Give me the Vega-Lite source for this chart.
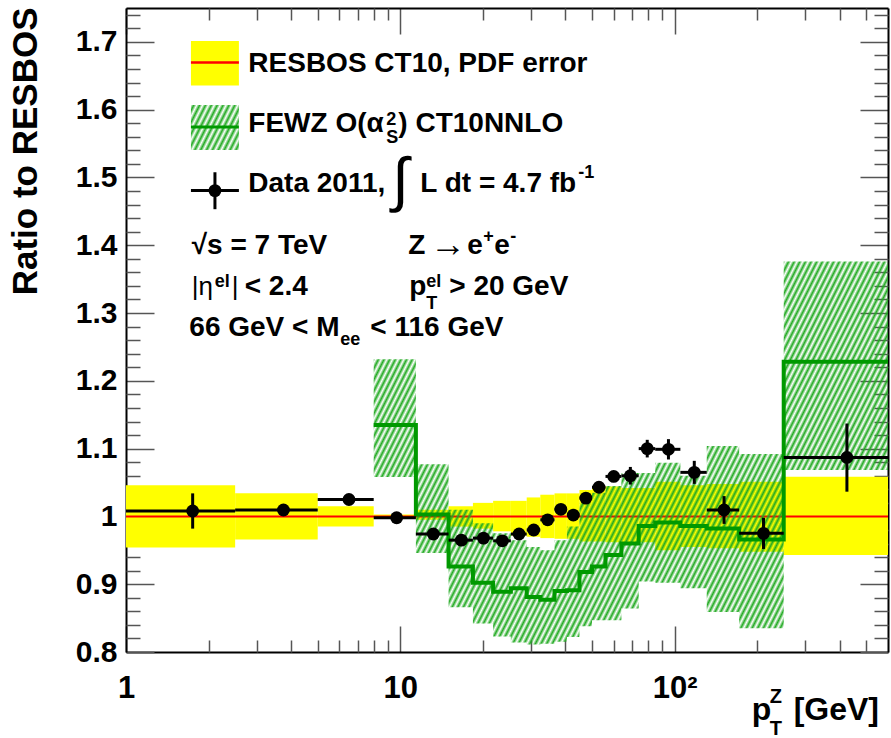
{
"$schema":"https://vega.github.io/schema/vega-lite/v6.json",
"width":762,"height":644,
"autosize":{"type":"none"},
"padding":{"left":126,"top":8,"right":3,"bottom":86},
"background":"white",
"config":{"view":{"stroke":null},"font":"Liberation Sans",
"axis":{"labelFont":"Liberation Sans","labelFontWeight":"bold","labelColor":"black","tickColor":"#555","tickWidth":1.5,"domainColor":"black","domainWidth":2,"grid":false,"zindex":1,"labelFlush":false,"labelOverlap":false,"titleFont":"Liberation Sans"}},
"resolve":{"axis":{"x":"independent","y":"independent"}},
"datasets":{
"resbos":[
{"lo":1,"hi":2.5,"dn":0.954,"up":1.046},
{"lo":2.5,"hi":5,"dn":0.966,"up":1.034},
{"lo":5,"hi":8,"dn":0.985,"up":1.015},
{"lo":8,"hi":11.4,"dn":0.997,"up":1.003},
{"lo":11.4,"hi":15,"dn":0.995,"up":1.01},
{"lo":15,"hi":18.4,"dn":0.985,"up":1.015},
{"lo":18.4,"hi":21.8,"dn":0.982,"up":1.02},
{"lo":21.8,"hi":25.3,"dn":0.978,"up":1.023},
{"lo":25.3,"hi":28.9,"dn":0.972,"up":1.023},
{"lo":28.9,"hi":32.4,"dn":0.97,"up":1.028},
{"lo":32.4,"hi":36.5,"dn":0.968,"up":1.032},
{"lo":36.5,"hi":40.5,"dn":0.967,"up":1.034},
{"lo":40.5,"hi":45,"dn":0.967,"up":1.034},
{"lo":45,"hi":50,"dn":0.963,"up":1.039},
{"lo":50,"hi":56,"dn":0.963,"up":1.042},
{"lo":56,"hi":64,"dn":0.962,"up":1.044},
{"lo":64,"hi":74,"dn":0.962,"up":1.042},
{"lo":74,"hi":85,"dn":0.962,"up":1.042},
{"lo":85,"hi":105,"dn":0.95,"up":1.051},
{"lo":105,"hi":131,"dn":0.955,"up":1.046},
{"lo":131,"hi":172,"dn":0.953,"up":1.048},
{"lo":172,"hi":250,"dn":0.948,"up":1.051},
{"lo":250,"hi":600,"dn":0.943,"up":1.0587}],
"fewz":[
{"lo":8,"c":1.135,"dn":1.058,"up":1.232},
{"lo":11.4,"c":1.003,"dn":0.946,"up":1.077},
{"lo":15,"c":0.926,"dn":0.866,"up":1.01},
{"lo":18.4,"c":0.902,"dn":0.842,"up":0.99},
{"lo":21.8,"c":0.889,"dn":0.823,"up":0.975},
{"lo":25.3,"c":0.894,"dn":0.814,"up":0.965},
{"lo":28.9,"c":0.881,"dn":0.811,"up":0.955},
{"lo":32.4,"c":0.877,"dn":0.812,"up":0.95},
{"lo":36.5,"c":0.89,"dn":0.815,"up":0.965},
{"lo":40.5,"c":0.891,"dn":0.822,"up":0.985},
{"lo":45,"c":0.918,"dn":0.838,"up":1.02},
{"lo":50,"c":0.926,"dn":0.847,"up":1.035},
{"lo":56,"c":0.943,"dn":0.847,"up":1.045},
{"lo":64,"c":0.96,"dn":0.864,"up":1.064},
{"lo":74,"c":0.986,"dn":0.904,"up":1.064},
{"lo":85,"c":0.991,"dn":0.902,"up":1.079},
{"lo":105,"c":0.986,"dn":0.894,"up":1.06},
{"lo":131,"c":0.982,"dn":0.859,"up":1.104},
{"lo":172,"c":0.966,"dn":0.835,"up":1.092},
{"lo":250,"c":1.228,"dn":1.0685,"up":1.376},
{"lo":600,"c":1.228,"dn":1.0685,"up":1.376}],
"meas":[
{"lo":1,"hi":2.5,"x":1.75,"y":1.008,"ymin":0.982,"ymax":1.034},
{"lo":2.5,"hi":5,"x":3.75,"y":1.0095,"ymin":1.005,"ymax":1.014},
{"lo":5,"hi":8,"x":6.5,"y":1.025,"ymin":1.021,"ymax":1.029},
{"lo":8,"hi":11.4,"x":9.7,"y":0.998,"ymin":0.995,"ymax":1.001},
{"lo":11.4,"hi":15,"x":13.2,"y":0.974,"ymin":0.97,"ymax":0.978},
{"lo":15,"hi":18.4,"x":16.7,"y":0.965,"ymin":0.961,"ymax":0.969},
{"lo":18.4,"hi":21.8,"x":20.1,"y":0.968,"ymin":0.964,"ymax":0.972},
{"lo":21.8,"hi":25.3,"x":23.55,"y":0.964,"ymin":0.96,"ymax":0.968},
{"lo":25.3,"hi":28.9,"x":27.1,"y":0.974,"ymin":0.97,"ymax":0.978},
{"lo":28.9,"hi":32.4,"x":30.65,"y":0.98,"ymin":0.976,"ymax":0.984},
{"lo":32.4,"hi":36.5,"x":34.45,"y":0.995,"ymin":0.991,"ymax":0.999},
{"lo":36.5,"hi":40.5,"x":38.5,"y":1.0105,"ymin":1.006,"ymax":1.015},
{"lo":40.5,"hi":45,"x":42.75,"y":1.002,"ymin":0.997,"ymax":1.007},
{"lo":45,"hi":50,"x":47.5,"y":1.027,"ymin":1.022,"ymax":1.032},
{"lo":50,"hi":56,"x":53,"y":1.043,"ymin":1.038,"ymax":1.048},
{"lo":56,"hi":64,"x":60,"y":1.059,"ymin":1.052,"ymax":1.066},
{"lo":64,"hi":74,"x":69,"y":1.06,"ymin":1.047,"ymax":1.073},
{"lo":74,"hi":85,"x":79.5,"y":1.1,"ymin":1.087,"ymax":1.113},
{"lo":85,"hi":105,"x":95,"y":1.099,"ymin":1.084,"ymax":1.114},
{"lo":105,"hi":131,"x":118,"y":1.065,"ymin":1.048,"ymax":1.082},
{"lo":131,"hi":172,"x":151.5,"y":1.0095,"ymin":0.989,"ymax":1.03},
{"lo":172,"hi":250,"x":211,"y":0.975,"ymin":0.952,"ymax":0.998},
{"lo":250,"hi":600,"x":425,"y":1.087,"ymin":1.0365,"ymax":1.137}]
},
"layer":[
{"data":{"name":"resbos"},"mark":{"type":"rect","fill":"#ffff00"},
"encoding":{
"x":{"field":"lo","type":"quantitative","scale":{"type":"log","domain":[1,600],"nice":false},"axis":{"orient":"bottom","values":[1,10,100],"labelExpr":"datum.value==1?'1':datum.value==10?'10':'10²'","tickSize":-26,"labelPadding":47,"labelFontSize":31,"title":null}},
"x2":{"field":"hi"},
"y":{"field":"dn","type":"quantitative","scale":{"domain":[0.8,1.75],"nice":false,"zero":false},"axis":{"orient":"left","values":[0.8,0.9,1,1.1,1.2,1.3,1.4,1.5,1.6,1.7],"format":"~g","tickSize":-28,"labelPadding":37,"labelFontSize":30,"title":"Ratio to RESBOS","titleFontSize":35,"titleFontWeight":"bold","titleColor":"black","titleAngle":270,"titleAlign":"right","titleBaseline":"alphabetic","titleX":-90,"titleY":-1}},
"y2":{"field":"up"}}},
{"data":{"values":[{}]},"mark":{"type":"rule","stroke":"#ff0000","strokeWidth":2},
"encoding":{"y":{"datum":1,"type":"quantitative","scale":{"domain":[0.8,1.75],"nice":false,"zero":false},"axis":null}}},
{"data":{"name":"fewz"},"mark":{"type":"area","interpolate":"step-after","fill":{"gradient":"linear","x1":0,"y1":0,"x2":1.205,"y2":0.4487,"stops":[
{"offset":0,"color":"#2a20"},{"offset":0.004,"color":"#2a2"},{"offset":0.008,"color":"#2a20"},{"offset":0.012,"color":"#2a2"},{"offset":0.016,"color":"#2a20"},{"offset":0.02,"color":"#2a2"},{"offset":0.024,"color":"#2a20"},{"offset":0.028,"color":"#2a2"},{"offset":0.032,"color":"#2a20"},{"offset":0.036,"color":"#2a2"},
{"offset":0.04,"color":"#2a20"},{"offset":0.044,"color":"#2a2"},{"offset":0.048,"color":"#2a20"},{"offset":0.052,"color":"#2a2"},{"offset":0.056,"color":"#2a20"},{"offset":0.06,"color":"#2a2"},{"offset":0.064,"color":"#2a20"},{"offset":0.068,"color":"#2a2"},{"offset":0.072,"color":"#2a20"},{"offset":0.076,"color":"#2a2"},
{"offset":0.08,"color":"#2a20"},{"offset":0.084,"color":"#2a2"},{"offset":0.088,"color":"#2a20"},{"offset":0.092,"color":"#2a2"},{"offset":0.096,"color":"#2a20"},{"offset":0.1,"color":"#2a2"},{"offset":0.104,"color":"#2a20"},{"offset":0.108,"color":"#2a2"},{"offset":0.112,"color":"#2a20"},{"offset":0.116,"color":"#2a2"},
{"offset":0.12,"color":"#2a20"},{"offset":0.124,"color":"#2a2"},{"offset":0.128,"color":"#2a20"},{"offset":0.132,"color":"#2a2"},{"offset":0.136,"color":"#2a20"},{"offset":0.14,"color":"#2a2"},{"offset":0.144,"color":"#2a20"},{"offset":0.148,"color":"#2a2"},{"offset":0.152,"color":"#2a20"},{"offset":0.156,"color":"#2a2"},
{"offset":0.16,"color":"#2a20"},{"offset":0.164,"color":"#2a2"},{"offset":0.168,"color":"#2a20"},{"offset":0.172,"color":"#2a2"},{"offset":0.176,"color":"#2a20"},{"offset":0.18,"color":"#2a2"},{"offset":0.184,"color":"#2a20"},{"offset":0.188,"color":"#2a2"},{"offset":0.192,"color":"#2a20"},{"offset":0.196,"color":"#2a2"},
{"offset":0.2,"color":"#2a20"},{"offset":0.204,"color":"#2a2"},{"offset":0.208,"color":"#2a20"},{"offset":0.212,"color":"#2a2"},{"offset":0.216,"color":"#2a20"},{"offset":0.22,"color":"#2a2"},{"offset":0.224,"color":"#2a20"},{"offset":0.228,"color":"#2a2"},{"offset":0.232,"color":"#2a20"},{"offset":0.236,"color":"#2a2"},
{"offset":0.24,"color":"#2a20"},{"offset":0.244,"color":"#2a2"},{"offset":0.248,"color":"#2a20"},{"offset":0.252,"color":"#2a2"},{"offset":0.256,"color":"#2a20"},{"offset":0.26,"color":"#2a2"},{"offset":0.264,"color":"#2a20"},{"offset":0.268,"color":"#2a2"},{"offset":0.272,"color":"#2a20"},{"offset":0.276,"color":"#2a2"},
{"offset":0.28,"color":"#2a20"},{"offset":0.284,"color":"#2a2"},{"offset":0.288,"color":"#2a20"},{"offset":0.292,"color":"#2a2"},{"offset":0.296,"color":"#2a20"},{"offset":0.3,"color":"#2a2"},{"offset":0.304,"color":"#2a20"},{"offset":0.308,"color":"#2a2"},{"offset":0.312,"color":"#2a20"},{"offset":0.316,"color":"#2a2"},
{"offset":0.32,"color":"#2a20"},{"offset":0.324,"color":"#2a2"},{"offset":0.328,"color":"#2a20"},{"offset":0.332,"color":"#2a2"},{"offset":0.336,"color":"#2a20"},{"offset":0.34,"color":"#2a2"},{"offset":0.344,"color":"#2a20"},{"offset":0.348,"color":"#2a2"},{"offset":0.352,"color":"#2a20"},{"offset":0.356,"color":"#2a2"},
{"offset":0.36,"color":"#2a20"},{"offset":0.364,"color":"#2a2"},{"offset":0.368,"color":"#2a20"},{"offset":0.372,"color":"#2a2"},{"offset":0.376,"color":"#2a20"},{"offset":0.38,"color":"#2a2"},{"offset":0.384,"color":"#2a20"},{"offset":0.388,"color":"#2a2"},{"offset":0.392,"color":"#2a20"},{"offset":0.396,"color":"#2a2"},
{"offset":0.4,"color":"#2a20"},{"offset":0.404,"color":"#2a2"},{"offset":0.408,"color":"#2a20"},{"offset":0.412,"color":"#2a2"},{"offset":0.416,"color":"#2a20"},{"offset":0.42,"color":"#2a2"},{"offset":0.424,"color":"#2a20"},{"offset":0.428,"color":"#2a2"},{"offset":0.432,"color":"#2a20"},{"offset":0.436,"color":"#2a2"},
{"offset":0.44,"color":"#2a20"},{"offset":0.444,"color":"#2a2"},{"offset":0.448,"color":"#2a20"},{"offset":0.452,"color":"#2a2"},{"offset":0.456,"color":"#2a20"},{"offset":0.46,"color":"#2a2"},{"offset":0.464,"color":"#2a20"},{"offset":0.468,"color":"#2a2"},{"offset":0.472,"color":"#2a20"},{"offset":0.476,"color":"#2a2"},
{"offset":0.48,"color":"#2a20"},{"offset":0.484,"color":"#2a2"},{"offset":0.488,"color":"#2a20"},{"offset":0.492,"color":"#2a2"},{"offset":0.496,"color":"#2a20"},{"offset":0.5,"color":"#2a2"},{"offset":0.504,"color":"#2a20"},{"offset":0.508,"color":"#2a2"},{"offset":0.512,"color":"#2a20"},{"offset":0.516,"color":"#2a2"},
{"offset":0.52,"color":"#2a20"},{"offset":0.524,"color":"#2a2"},{"offset":0.528,"color":"#2a20"},{"offset":0.532,"color":"#2a2"},{"offset":0.536,"color":"#2a20"},{"offset":0.54,"color":"#2a2"},{"offset":0.544,"color":"#2a20"},{"offset":0.548,"color":"#2a2"},{"offset":0.552,"color":"#2a20"},{"offset":0.556,"color":"#2a2"},
{"offset":0.56,"color":"#2a20"},{"offset":0.564,"color":"#2a2"},{"offset":0.568,"color":"#2a20"},{"offset":0.572,"color":"#2a2"},{"offset":0.576,"color":"#2a20"},{"offset":0.58,"color":"#2a2"},{"offset":0.584,"color":"#2a20"},{"offset":0.588,"color":"#2a2"},{"offset":0.592,"color":"#2a20"},{"offset":0.596,"color":"#2a2"},
{"offset":0.6,"color":"#2a20"},{"offset":0.604,"color":"#2a2"},{"offset":0.608,"color":"#2a20"},{"offset":0.612,"color":"#2a2"},{"offset":0.616,"color":"#2a20"},{"offset":0.62,"color":"#2a2"},{"offset":0.624,"color":"#2a20"},{"offset":0.628,"color":"#2a2"},{"offset":0.632,"color":"#2a20"},{"offset":0.636,"color":"#2a2"},
{"offset":0.64,"color":"#2a20"},{"offset":0.644,"color":"#2a2"},{"offset":0.648,"color":"#2a20"},{"offset":0.652,"color":"#2a2"},{"offset":0.656,"color":"#2a20"},{"offset":0.66,"color":"#2a2"},{"offset":0.664,"color":"#2a20"},{"offset":0.668,"color":"#2a2"},{"offset":0.672,"color":"#2a20"},{"offset":0.676,"color":"#2a2"},
{"offset":0.68,"color":"#2a20"},{"offset":0.684,"color":"#2a2"},{"offset":0.688,"color":"#2a20"},{"offset":0.692,"color":"#2a2"},{"offset":0.696,"color":"#2a20"},{"offset":0.7,"color":"#2a2"},{"offset":0.704,"color":"#2a20"},{"offset":0.708,"color":"#2a2"},{"offset":0.712,"color":"#2a20"},{"offset":0.716,"color":"#2a2"},
{"offset":0.72,"color":"#2a20"},{"offset":0.724,"color":"#2a2"},{"offset":0.728,"color":"#2a20"},{"offset":0.732,"color":"#2a2"},{"offset":0.736,"color":"#2a20"},{"offset":0.74,"color":"#2a2"},{"offset":0.744,"color":"#2a20"},{"offset":0.748,"color":"#2a2"},{"offset":0.752,"color":"#2a20"},{"offset":0.756,"color":"#2a2"},
{"offset":0.76,"color":"#2a20"},{"offset":0.764,"color":"#2a2"},{"offset":0.768,"color":"#2a20"},{"offset":0.772,"color":"#2a2"},{"offset":0.776,"color":"#2a20"},{"offset":0.78,"color":"#2a2"},{"offset":0.784,"color":"#2a20"},{"offset":0.788,"color":"#2a2"},{"offset":0.792,"color":"#2a20"},{"offset":0.796,"color":"#2a2"},
{"offset":0.8,"color":"#2a20"},{"offset":0.804,"color":"#2a2"},{"offset":0.808,"color":"#2a20"},{"offset":0.812,"color":"#2a2"},{"offset":0.816,"color":"#2a20"},{"offset":0.82,"color":"#2a2"},{"offset":0.824,"color":"#2a20"},{"offset":0.828,"color":"#2a2"},{"offset":0.832,"color":"#2a20"},{"offset":0.836,"color":"#2a2"},
{"offset":0.84,"color":"#2a20"},{"offset":0.844,"color":"#2a2"},{"offset":0.848,"color":"#2a20"},{"offset":0.852,"color":"#2a2"},{"offset":0.856,"color":"#2a20"},{"offset":0.86,"color":"#2a2"},{"offset":0.864,"color":"#2a20"},{"offset":0.868,"color":"#2a2"},{"offset":0.872,"color":"#2a20"},{"offset":0.876,"color":"#2a2"},
{"offset":0.88,"color":"#2a20"},{"offset":0.884,"color":"#2a2"},{"offset":0.888,"color":"#2a20"},{"offset":0.892,"color":"#2a2"},{"offset":0.896,"color":"#2a20"},{"offset":0.9,"color":"#2a2"},{"offset":0.904,"color":"#2a20"},{"offset":0.908,"color":"#2a2"},{"offset":0.912,"color":"#2a20"},{"offset":0.916,"color":"#2a2"},
{"offset":0.92,"color":"#2a20"},{"offset":0.924,"color":"#2a2"},{"offset":0.928,"color":"#2a20"},{"offset":0.932,"color":"#2a2"},{"offset":0.936,"color":"#2a20"},{"offset":0.94,"color":"#2a2"},{"offset":0.944,"color":"#2a20"},{"offset":0.948,"color":"#2a2"},{"offset":0.952,"color":"#2a20"},{"offset":0.956,"color":"#2a2"},
{"offset":0.96,"color":"#2a20"},{"offset":0.964,"color":"#2a2"},{"offset":0.968,"color":"#2a20"},{"offset":0.972,"color":"#2a2"},{"offset":0.976,"color":"#2a20"},{"offset":0.98,"color":"#2a2"},{"offset":0.984,"color":"#2a20"},{"offset":0.988,"color":"#2a2"},{"offset":0.992,"color":"#2a20"},{"offset":0.996,"color":"#2a2"},
{"offset":1,"color":"#2a20"}]}},
"encoding":{
"x":{"field":"lo","type":"quantitative","scale":{"type":"log","domain":[1,600],"nice":false},"axis":{"orient":"bottom","values":[2,3,4,5,6,7,8,9,20,30,40,50,60,70,80,90,200,300,400,500],"tickSize":-12,"labels":false,"domain":false,"title":null}},
"y":{"field":"dn","type":"quantitative","scale":{"domain":[0.8,1.75],"nice":false,"zero":false},"axis":{"orient":"left","values":[0.82,0.84,0.86,0.88,0.92,0.94,0.96,0.98,1.02,1.04,1.06,1.08,1.12,1.14,1.16,1.18,1.22,1.24,1.26,1.28,1.32,1.34,1.36,1.38,1.42,1.44,1.46,1.48,1.52,1.54,1.56,1.58,1.62,1.64,1.66,1.68,1.72,1.74],"tickSize":-14,"labels":false,"domain":false,"title":null}},
"y2":{"field":"up"}}},
{"data":{"name":"fewz"},"mark":{"type":"line","interpolate":"step-after","stroke":"#009900","strokeWidth":4},
"encoding":{
"x":{"field":"lo","type":"quantitative","scale":{"type":"log","domain":[1,600],"nice":false},"axis":{"orient":"top","values":[1,10,100],"tickSize":-26,"labels":false,"title":null}},
"y":{"field":"c","type":"quantitative","scale":{"domain":[0.8,1.75],"nice":false,"zero":false},"axis":{"orient":"right","values":[0.8,0.9,1,1.1,1.2,1.3,1.4,1.5,1.6,1.7],"tickSize":-28,"labels":false,"title":null}}}},
{"data":{"name":"meas"},"mark":{"type":"rule","stroke":"black","strokeWidth":3},
"encoding":{"x":{"field":"lo","type":"quantitative","scale":{"type":"log","domain":[1,600],"nice":false},"axis":null},"x2":{"field":"hi"},
"y":{"field":"y","type":"quantitative","scale":{"domain":[0.8,1.75],"nice":false,"zero":false},"axis":null}}},
{"data":{"name":"meas"},"mark":{"type":"rule","stroke":"black","strokeWidth":3},
"encoding":{"x":{"field":"x","type":"quantitative","scale":{"type":"log","domain":[1,600],"nice":false},"axis":null},
"y":{"field":"ymin","type":"quantitative","scale":{"domain":[0.8,1.75],"nice":false,"zero":false},"axis":null},"y2":{"field":"ymax"}}},
{"data":{"name":"meas"},"mark":{"type":"circle","color":"black","opacity":1,"size":165},
"encoding":{
"x":{"field":"x","type":"quantitative","scale":{"type":"log","domain":[1,600],"nice":false},"axis":{"orient":"top","values":[2,3,4,5,6,7,8,9,20,30,40,50,60,70,80,90,200,300,400,500],"tickSize":-12,"labels":false,"domain":false,"title":null}},
"y":{"field":"y","type":"quantitative","scale":{"domain":[0.8,1.75],"nice":false,"zero":false},"axis":{"orient":"right","values":[0.82,0.84,0.86,0.88,0.92,0.94,0.96,0.98,1.02,1.04,1.06,1.08,1.12,1.14,1.16,1.18,1.22,1.24,1.26,1.28,1.32,1.34,1.36,1.38,1.42,1.44,1.46,1.48,1.52,1.54,1.56,1.58,1.62,1.64,1.66,1.68,1.72,1.74],"tickSize":-14,"labels":false,"domain":false,"title":null}}}},
{"data":{"values":[{}]},"mark":{"type":"rect","fill":"#ffff00"},
"encoding":{"x":{"datum":1.725,"type":"quantitative","scale":{"type":"log","domain":[1,600],"nice":false},"axis":null},"x2":{"datum":2.58},
"y":{"datum":1.6355,"type":"quantitative","scale":{"domain":[0.8,1.75],"nice":false,"zero":false},"axis":null},"y2":{"datum":1.7014}}},
{"data":{"values":[{}]},"mark":{"type":"rule","stroke":"#ff0000","strokeWidth":2.5},
"encoding":{"x":{"datum":1.725,"type":"quantitative","scale":{"type":"log","domain":[1,600],"nice":false},"axis":null},"x2":{"datum":2.58},
"y":{"datum":1.6695,"type":"quantitative","scale":{"domain":[0.8,1.75],"nice":false,"zero":false},"axis":null}}},
{"data":{"values":[{}]},"mark":{"type":"rect","fill":{"gradient":"linear","x1":0,"y1":0,"x2":1.204,"y2":0.5645,"stops":[
{"offset":0,"color":"#2a20"},{"offset":0.0417,"color":"#2a2"},{"offset":0.0833,"color":"#2a20"},{"offset":0.125,"color":"#2a2"},{"offset":0.1667,"color":"#2a20"},{"offset":0.2083,"color":"#2a2"},{"offset":0.25,"color":"#2a20"},{"offset":0.2917,"color":"#2a2"},{"offset":0.3333,"color":"#2a20"},{"offset":0.375,"color":"#2a2"},{"offset":0.4167,"color":"#2a20"},{"offset":0.4583,"color":"#2a2"},{"offset":0.5,"color":"#2a20"},{"offset":0.5417,"color":"#2a2"},{"offset":0.5833,"color":"#2a20"},{"offset":0.625,"color":"#2a2"},{"offset":0.6667,"color":"#2a20"},{"offset":0.7083,"color":"#2a2"},{"offset":0.75,"color":"#2a20"},{"offset":0.7917,"color":"#2a2"},{"offset":0.8333,"color":"#2a20"},{"offset":0.875,"color":"#2a2"},{"offset":0.9167,"color":"#2a20"},{"offset":0.9583,"color":"#2a2"},{"offset":1,"color":"#2a20"}]}},
"encoding":{"x":{"datum":1.725,"type":"quantitative","scale":{"type":"log","domain":[1,600],"nice":false},"axis":null},"x2":{"datum":2.58},
"y":{"datum":1.5406,"type":"quantitative","scale":{"domain":[0.8,1.75],"nice":false,"zero":false},"axis":null},"y2":{"datum":1.607}}},
{"data":{"values":[{}]},"mark":{"type":"rule","stroke":"#009900","strokeWidth":3},
"encoding":{"x":{"datum":1.725,"type":"quantitative","scale":{"type":"log","domain":[1,600],"nice":false},"axis":null},"x2":{"datum":2.58},
"y":{"datum":1.5746,"type":"quantitative","scale":{"domain":[0.8,1.75],"nice":false,"zero":false},"axis":null}}},
{"data":{"values":[{}]},"mark":{"type":"rule","stroke":"black","strokeWidth":3},
"encoding":{"x":{"datum":1.725,"type":"quantitative","scale":{"type":"log","domain":[1,600],"nice":false},"axis":null},"x2":{"datum":2.58},
"y":{"datum":1.4806,"type":"quantitative","scale":{"domain":[0.8,1.75],"nice":false,"zero":false},"axis":null}}},
{"data":{"values":[{}]},"mark":{"type":"rule","stroke":"black","strokeWidth":3},
"encoding":{"x":{"datum":2.11,"type":"quantitative","scale":{"type":"log","domain":[1,600],"nice":false},"axis":null},
"y":{"datum":1.4532,"type":"quantitative","scale":{"domain":[0.8,1.75],"nice":false,"zero":false},"axis":null},"y2":{"datum":1.5077}}},
{"data":{"values":[{}]},"mark":{"type":"circle","color":"black","opacity":1,"size":165},
"encoding":{"x":{"datum":2.11,"type":"quantitative","scale":{"type":"log","domain":[1,600],"nice":false},"axis":null},
"y":{"datum":1.4806,"type":"quantitative","scale":{"domain":[0.8,1.75],"nice":false,"zero":false},"axis":null}}},
{"data":{"values":[{}]},"mark":{"type":"text","text":"RESBOS CT10, PDF error","align":"left","baseline":"alphabetic","fontSize":28,"fontWeight":"bold","color":"black"},
"encoding":{"x":{"datum":2.7923,"type":"quantitative","scale":{"type":"log","domain":[1,600],"nice":false},"axis":null},"y":{"datum":1.656,"type":"quantitative","scale":{"domain":[0.8,1.75],"nice":false,"zero":false},"axis":null}}},
{"data":{"values":[{}]},"mark":{"type":"text","text":"FEWZ O(α","align":"left","baseline":"alphabetic","fontSize":28,"fontWeight":"bold","color":"black"},
"encoding":{"x":{"datum":2.7923,"type":"quantitative","scale":{"type":"log","domain":[1,600],"nice":false},"axis":null},"y":{"datum":1.5675,"type":"quantitative","scale":{"domain":[0.8,1.75],"nice":false,"zero":false},"axis":null}}},
{"data":{"values":[{}]},"mark":{"type":"text","text":"2","align":"left","baseline":"alphabetic","fontSize":18,"fontWeight":"bold","color":"black","dx":138,"dy":-7},
"encoding":{"x":{"datum":2.7923,"type":"quantitative","scale":{"type":"log","domain":[1,600],"nice":false},"axis":null},"y":{"datum":1.5675,"type":"quantitative","scale":{"domain":[0.8,1.75],"nice":false,"zero":false},"axis":null}}},
{"data":{"values":[{}]},"mark":{"type":"text","text":"S","align":"left","baseline":"alphabetic","fontSize":18,"fontWeight":"bold","color":"black","dx":138,"dy":11},
"encoding":{"x":{"datum":2.7923,"type":"quantitative","scale":{"type":"log","domain":[1,600],"nice":false},"axis":null},"y":{"datum":1.5675,"type":"quantitative","scale":{"domain":[0.8,1.75],"nice":false,"zero":false},"axis":null}}},
{"data":{"values":[{}]},"mark":{"type":"text","text":") CT10NNLO","align":"left","baseline":"alphabetic","fontSize":28,"fontWeight":"bold","color":"black","dx":150},
"encoding":{"x":{"datum":2.7923,"type":"quantitative","scale":{"type":"log","domain":[1,600],"nice":false},"axis":null},"y":{"datum":1.5675,"type":"quantitative","scale":{"domain":[0.8,1.75],"nice":false,"zero":false},"axis":null}}},
{"data":{"values":[{}]},"mark":{"type":"text","text":"Data 2011,","align":"left","baseline":"alphabetic","fontSize":28,"fontWeight":"bold","color":"black"},
"encoding":{"x":{"datum":2.7923,"type":"quantitative","scale":{"type":"log","domain":[1,600],"nice":false},"axis":null},"y":{"datum":1.4781,"type":"quantitative","scale":{"domain":[0.8,1.75],"nice":false,"zero":false},"axis":null}}},
{"data":{"values":[{}]},"mark":{"type":"text","text":"∫","align":"left","baseline":"alphabetic","fontSize":60,"color":"black","dx":144,"dy":8},
"encoding":{"x":{"datum":2.7923,"type":"quantitative","scale":{"type":"log","domain":[1,600],"nice":false},"axis":null},"y":{"datum":1.4781,"type":"quantitative","scale":{"domain":[0.8,1.75],"nice":false,"zero":false},"axis":null}}},
{"data":{"values":[{}]},"mark":{"type":"text","text":"L dt = 4.7 fb","align":"left","baseline":"alphabetic","fontSize":28,"fontWeight":"bold","color":"black","dx":172},
"encoding":{"x":{"datum":2.7923,"type":"quantitative","scale":{"type":"log","domain":[1,600],"nice":false},"axis":null},"y":{"datum":1.4781,"type":"quantitative","scale":{"domain":[0.8,1.75],"nice":false,"zero":false},"axis":null}}},
{"data":{"values":[{}]},"mark":{"type":"text","text":"-1","align":"left","baseline":"alphabetic","fontSize":18,"fontWeight":"bold","color":"black","dx":330,"dy":-14},
"encoding":{"x":{"datum":2.7923,"type":"quantitative","scale":{"type":"log","domain":[1,600],"nice":false},"axis":null},"y":{"datum":1.4781,"type":"quantitative","scale":{"domain":[0.8,1.75],"nice":false,"zero":false},"axis":null}}},
{"data":{"values":[{}]},"mark":{"type":"text","text":"√s = 7 TeV","align":"left","baseline":"alphabetic","fontSize":28,"fontWeight":"bold","color":"black"},
"encoding":{"x":{"datum":1.7361,"type":"quantitative","scale":{"type":"log","domain":[1,600],"nice":false},"axis":null},"y":{"datum":1.3871,"type":"quantitative","scale":{"domain":[0.8,1.75],"nice":false,"zero":false},"axis":null}}},
{"data":{"values":[{}]},"mark":{"type":"text","text":"Z","align":"left","baseline":"alphabetic","fontSize":28,"fontWeight":"bold","color":"black"},
"encoding":{"x":{"datum":10.694,"type":"quantitative","scale":{"type":"log","domain":[1,600],"nice":false},"axis":null},"y":{"datum":1.3871,"type":"quantitative","scale":{"domain":[0.8,1.75],"nice":false,"zero":false},"axis":null}}},
{"data":{"values":[{}]},"mark":{"type":"text","text":"→","align":"left","baseline":"alphabetic","fontSize":36,"color":"black","dx":22,"dy":2},
"encoding":{"x":{"datum":10.694,"type":"quantitative","scale":{"type":"log","domain":[1,600],"nice":false},"axis":null},"y":{"datum":1.3871,"type":"quantitative","scale":{"domain":[0.8,1.75],"nice":false,"zero":false},"axis":null}}},
{"data":{"values":[{}]},"mark":{"type":"text","text":"e","align":"left","baseline":"alphabetic","fontSize":28,"fontWeight":"bold","color":"black","dx":59},
"encoding":{"x":{"datum":10.694,"type":"quantitative","scale":{"type":"log","domain":[1,600],"nice":false},"axis":null},"y":{"datum":1.3871,"type":"quantitative","scale":{"domain":[0.8,1.75],"nice":false,"zero":false},"axis":null}}},
{"data":{"values":[{}]},"mark":{"type":"text","text":"+","align":"left","baseline":"alphabetic","fontSize":18,"fontWeight":"bold","color":"black","dx":75,"dy":-12},
"encoding":{"x":{"datum":10.694,"type":"quantitative","scale":{"type":"log","domain":[1,600],"nice":false},"axis":null},"y":{"datum":1.3871,"type":"quantitative","scale":{"domain":[0.8,1.75],"nice":false,"zero":false},"axis":null}}},
{"data":{"values":[{}]},"mark":{"type":"text","text":"e","align":"left","baseline":"alphabetic","fontSize":28,"fontWeight":"bold","color":"black","dx":86},
"encoding":{"x":{"datum":10.694,"type":"quantitative","scale":{"type":"log","domain":[1,600],"nice":false},"axis":null},"y":{"datum":1.3871,"type":"quantitative","scale":{"domain":[0.8,1.75],"nice":false,"zero":false},"axis":null}}},
{"data":{"values":[{}]},"mark":{"type":"text","text":"-","align":"left","baseline":"alphabetic","fontSize":18,"fontWeight":"bold","color":"black","dx":102,"dy":-12},
"encoding":{"x":{"datum":10.694,"type":"quantitative","scale":{"type":"log","domain":[1,600],"nice":false},"axis":null},"y":{"datum":1.3871,"type":"quantitative","scale":{"domain":[0.8,1.75],"nice":false,"zero":false},"axis":null}}},
{"data":{"values":[{}]},"mark":{"type":"text","text":"|η","align":"left","baseline":"alphabetic","fontSize":26,"color":"black"},
"encoding":{"x":{"datum":1.7361,"type":"quantitative","scale":{"type":"log","domain":[1,600],"nice":false},"axis":null},"y":{"datum":1.327,"type":"quantitative","scale":{"domain":[0.8,1.75],"nice":false,"zero":false},"axis":null}}},
{"data":{"values":[{}]},"mark":{"type":"text","text":"el","align":"left","baseline":"alphabetic","fontSize":18,"fontWeight":"bold","color":"black","dx":23,"dy":-8},
"encoding":{"x":{"datum":1.7361,"type":"quantitative","scale":{"type":"log","domain":[1,600],"nice":false},"axis":null},"y":{"datum":1.327,"type":"quantitative","scale":{"domain":[0.8,1.75],"nice":false,"zero":false},"axis":null}}},
{"data":{"values":[{}]},"mark":{"type":"text","text":"|","align":"left","baseline":"alphabetic","fontSize":26,"color":"black","dx":40},
"encoding":{"x":{"datum":1.7361,"type":"quantitative","scale":{"type":"log","domain":[1,600],"nice":false},"axis":null},"y":{"datum":1.327,"type":"quantitative","scale":{"domain":[0.8,1.75],"nice":false,"zero":false},"axis":null}}},
{"data":{"values":[{}]},"mark":{"type":"text","text":"< 2.4","align":"left","baseline":"alphabetic","fontSize":28,"fontWeight":"bold","color":"black","dx":53},
"encoding":{"x":{"datum":1.7361,"type":"quantitative","scale":{"type":"log","domain":[1,600],"nice":false},"axis":null},"y":{"datum":1.327,"type":"quantitative","scale":{"domain":[0.8,1.75],"nice":false,"zero":false},"axis":null}}},
{"data":{"values":[{}]},"mark":{"type":"text","text":"p","align":"left","baseline":"alphabetic","fontSize":28,"fontWeight":"bold","color":"black"},
"encoding":{"x":{"datum":10.785,"type":"quantitative","scale":{"type":"log","domain":[1,600],"nice":false},"axis":null},"y":{"datum":1.327,"type":"quantitative","scale":{"domain":[0.8,1.75],"nice":false,"zero":false},"axis":null}}},
{"data":{"values":[{}]},"mark":{"type":"text","text":"el","align":"left","baseline":"alphabetic","fontSize":18,"fontWeight":"bold","color":"black","dx":17,"dy":-8},
"encoding":{"x":{"datum":10.785,"type":"quantitative","scale":{"type":"log","domain":[1,600],"nice":false},"axis":null},"y":{"datum":1.327,"type":"quantitative","scale":{"domain":[0.8,1.75],"nice":false,"zero":false},"axis":null}}},
{"data":{"values":[{}]},"mark":{"type":"text","text":"T","align":"left","baseline":"alphabetic","fontSize":18,"fontWeight":"bold","color":"black","dx":17,"dy":14},
"encoding":{"x":{"datum":10.785,"type":"quantitative","scale":{"type":"log","domain":[1,600],"nice":false},"axis":null},"y":{"datum":1.327,"type":"quantitative","scale":{"domain":[0.8,1.75],"nice":false,"zero":false},"axis":null}}},
{"data":{"values":[{}]},"mark":{"type":"text","text":"> 20 GeV","align":"left","baseline":"alphabetic","fontSize":28,"fontWeight":"bold","color":"black","dx":40},
"encoding":{"x":{"datum":10.785,"type":"quantitative","scale":{"type":"log","domain":[1,600],"nice":false},"axis":null},"y":{"datum":1.327,"type":"quantitative","scale":{"domain":[0.8,1.75],"nice":false,"zero":false},"axis":null}}},
{"data":{"values":[{}]},"mark":{"type":"text","text":"66 GeV < M","align":"left","baseline":"alphabetic","fontSize":28,"fontWeight":"bold","color":"black"},
"encoding":{"x":{"datum":1.7014,"type":"quantitative","scale":{"type":"log","domain":[1,600],"nice":false},"axis":null},"y":{"datum":1.2661,"type":"quantitative","scale":{"domain":[0.8,1.75],"nice":false,"zero":false},"axis":null}}},
{"data":{"values":[{}]},"mark":{"type":"text","text":"ee","align":"left","baseline":"alphabetic","fontSize":18,"fontWeight":"bold","color":"black","dx":151,"dy":9},
"encoding":{"x":{"datum":1.7014,"type":"quantitative","scale":{"type":"log","domain":[1,600],"nice":false},"axis":null},"y":{"datum":1.2661,"type":"quantitative","scale":{"domain":[0.8,1.75],"nice":false,"zero":false},"axis":null}}},
{"data":{"values":[{}]},"mark":{"type":"text","text":"< 116 GeV","align":"left","baseline":"alphabetic","fontSize":28,"fontWeight":"bold","color":"black","dx":181},
"encoding":{"x":{"datum":1.7014,"type":"quantitative","scale":{"type":"log","domain":[1,600],"nice":false},"axis":null},"y":{"datum":1.2661,"type":"quantitative","scale":{"domain":[0.8,1.75],"nice":false,"zero":false},"axis":null}}},
{"data":{"values":[{}]},"mark":{"type":"text","text":"p","align":"left","baseline":"alphabetic","fontSize":32,"fontWeight":"bold","color":"black"},
"encoding":{"x":{"datum":191,"type":"quantitative","scale":{"type":"log","domain":[1,600],"nice":false},"axis":null},"y":{"datum":0.6997,"type":"quantitative","scale":{"domain":[0.8,1.75],"nice":false,"zero":false},"axis":null}}},
{"data":{"values":[{}]},"mark":{"type":"text","text":"Z","align":"left","baseline":"alphabetic","fontSize":20,"fontWeight":"bold","color":"black","dx":18,"dy":-17},
"encoding":{"x":{"datum":191,"type":"quantitative","scale":{"type":"log","domain":[1,600],"nice":false},"axis":null},"y":{"datum":0.6997,"type":"quantitative","scale":{"domain":[0.8,1.75],"nice":false,"zero":false},"axis":null}}},
{"data":{"values":[{}]},"mark":{"type":"text","text":"T","align":"left","baseline":"alphabetic","fontSize":20,"fontWeight":"bold","color":"black","dx":18,"dy":15},
"encoding":{"x":{"datum":191,"type":"quantitative","scale":{"type":"log","domain":[1,600],"nice":false},"axis":null},"y":{"datum":0.6997,"type":"quantitative","scale":{"domain":[0.8,1.75],"nice":false,"zero":false},"axis":null}}},
{"data":{"values":[{}]},"mark":{"type":"text","text":"[GeV]","align":"left","baseline":"alphabetic","fontSize":32,"fontWeight":"bold","color":"black","dx":42},
"encoding":{"x":{"datum":191,"type":"quantitative","scale":{"type":"log","domain":[1,600],"nice":false},"axis":null},"y":{"datum":0.6997,"type":"quantitative","scale":{"domain":[0.8,1.75],"nice":false,"zero":false},"axis":null}}}
]
}
